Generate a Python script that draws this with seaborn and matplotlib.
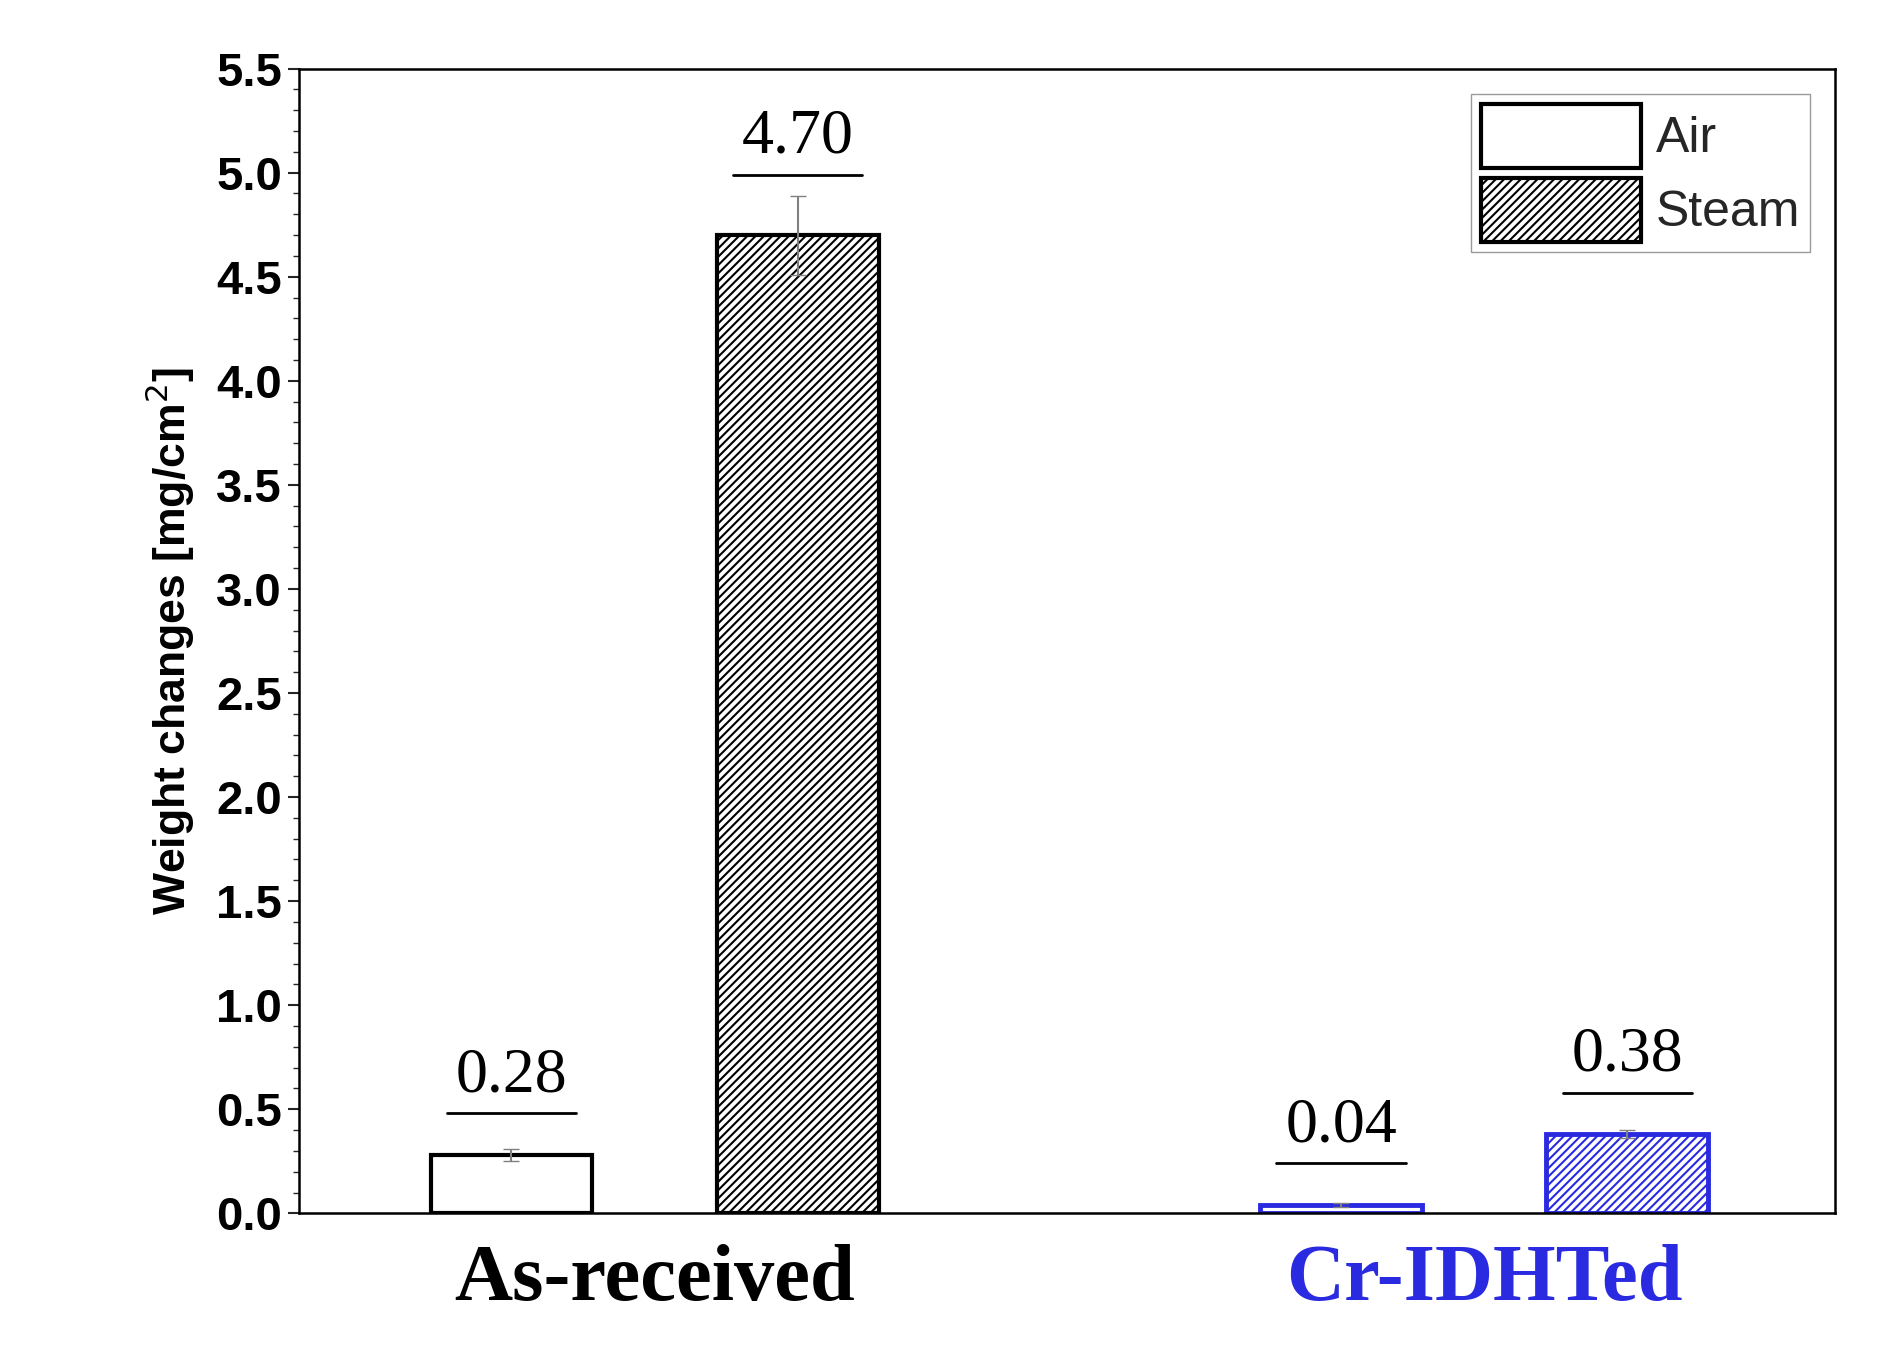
import matplotlib
matplotlib.use("Agg")
import matplotlib.pyplot as plt
import seaborn as sns
import pandas as pd
import numpy as np
from matplotlib.ticker import MultipleLocator
from matplotlib.patches import Patch

samples = ["As-received", "As-received", "Cr-IDHTed", "Cr-IDHTed"]
atmos = ["Air", "Steam", "Air", "Steam"]
values = [0.28, 4.70, 0.04, 0.38]
errors = [0.03, 0.19, 0.01, 0.02]
labels = ["0.28", "4.70", "0.04", "0.38"]
colors = ["black", "black", "#2a2ae0", "#2a2ae0"]

df = pd.DataFrame({"sample": samples, "atm": atmos, "val": values})

sns.set_style("ticks")
plt.rcParams["hatch.linewidth"] = 1.5
fig = plt.figure(figsize=(18.9, 13.71), dpi=100)
ax = fig.add_axes([0.158, 0.115, 0.813, 0.835])
sns.barplot(data=df, x="sample", y="val", hue="atm", dodge=True, width=0.69,
            errorbar=None, ax=ax, legend=False)
bw = 0.195
bars = sorted(ax.patches, key=lambda p: p.get_x())[:4]
for p, v, e, lab, c, a in zip(bars, values, errors, labels, colors, atmos):
    cx = p.get_x() + p.get_width() / 2
    p.set_width(bw)
    p.set_x(cx - bw / 2)
    p.set_facecolor("white")
    p.set_edgecolor(c)
    p.set_linewidth(3 if c == "black" else 3.5)
    if a == "Steam":
        p.set_hatch("////")
    ax.errorbar(cx, v, yerr=e, color="gray", capsize=6, lw=1.5)
    ty = max(v + 0.2, v + e + 0.1)
    ax.text(cx, ty + 0.04, lab, ha="center", va="bottom", fontsize=46,
            family="Liberation Serif", color="black")
    ax.plot([cx - 0.078, cx + 0.078], [ty, ty], color="black", lw=2)

ax.set_xlim(-0.429, 1.423)
ax.set_ylim(0, 5.5)
ax.yaxis.set_minor_locator(MultipleLocator(0.1))
ax.set_yticks(np.arange(0, 5.51, 0.5))
ax.set_yticklabels([f"{t:.1f}" for t in np.arange(0, 5.51, 0.5)],
                   fontsize=34, fontweight="bold", family="Liberation Sans", color="black")
ax.tick_params(axis="y", which="major", length=8, width=1.5, pad=4)
ax.tick_params(axis="y", which="minor", length=4, width=1)
ax.tick_params(axis="x", length=0, pad=22)
ax.set_xticks([0, 1])
ax.set_xticklabels(["As-received", "Cr-IDHTed"], fontsize=58, fontweight="bold",
                   family="Liberation Serif", color="black")
ax.get_xticklabels()[1].set_color("#2a2ae0")
ax.set_xlabel("")
ax.set_ylabel("Weight changes [mg/cm$^2$]", fontsize=32, fontweight="bold",
              family="Liberation Sans", color="black", labelpad=14)
for s in ax.spines.values():
    s.set_linewidth(1.8)
    s.set_color("black")

handles = [Patch(facecolor="white", edgecolor="black", lw=3, label="Air"),
           Patch(facecolor="white", edgecolor="black", lw=3, hatch="////", label="Steam")]
ax.legend(handles=handles, loc="upper right", frameon=True, fancybox=False,
          edgecolor="gray", handlelength=3.2, handleheight=1.6, borderaxespad=0.5,
          handletextpad=0.3, borderpad=0.2, labelspacing=0.2,
          prop={"family": "Liberation Sans", "size": 36})
fig.savefig("out.png", dpi=100)
